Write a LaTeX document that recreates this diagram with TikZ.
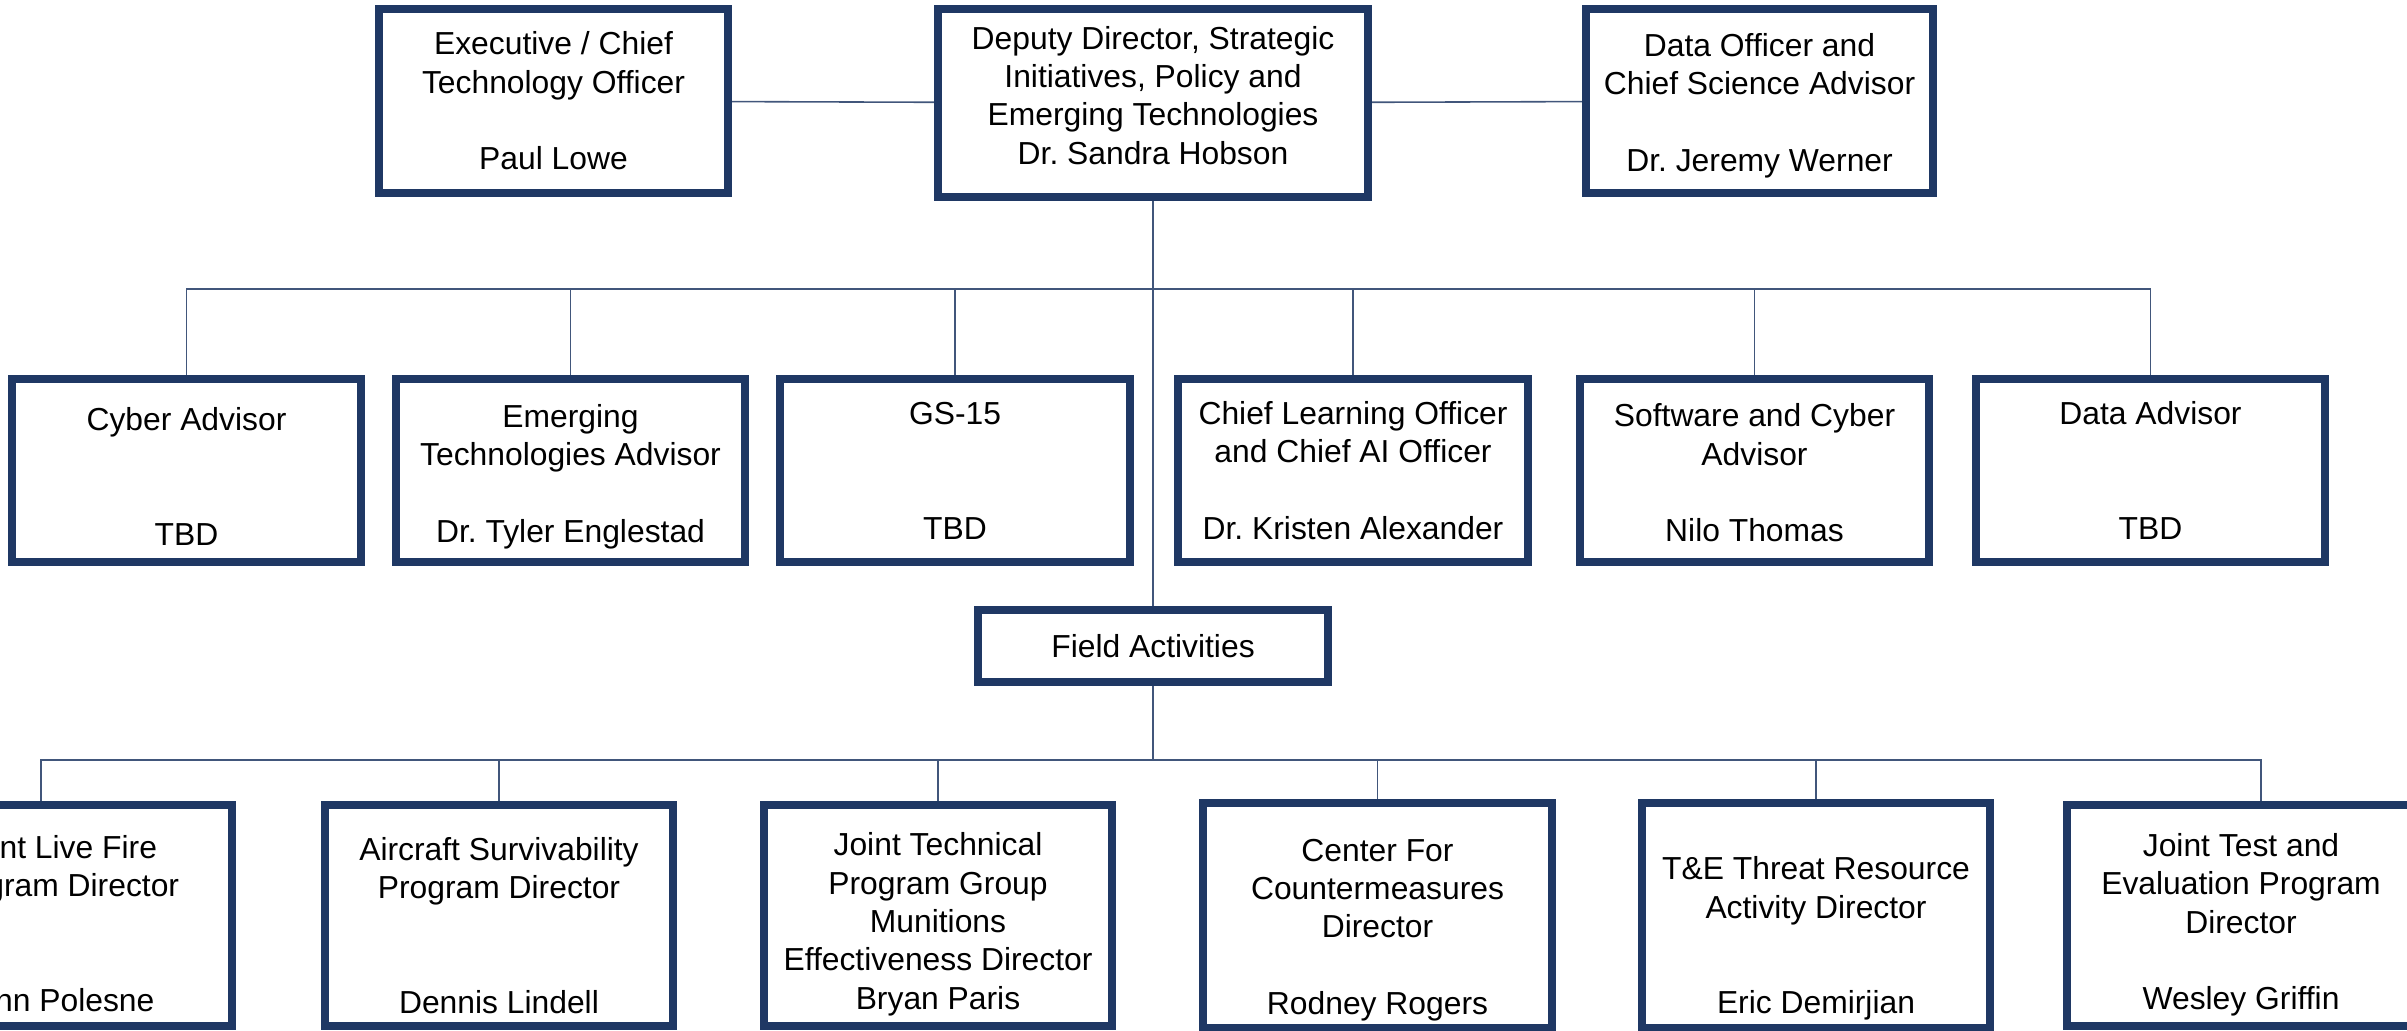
\documentclass[tikz,border=0pt]{standalone}
\usepackage{fontspec}
\setmainfont{Liberation Sans}
\usetikzlibrary{calc}
\definecolor{navy}{HTML}{1F3864}
\newcommand{\lowr}[1]{\rule{0pt}{#1}}
\newcommand{\liftr}[1]{\rule[-#1]{0pt}{#1}}
\frenchspacing

\begin{document}
\begin{tikzpicture}[x=0.01cm, y=-0.01cm,
  box/.style={draw=navy, line width=0.08cm, fill=white, align=center, inner sep=2pt,
    font=\fontsize{9.05}{10.9}\selectfont, minimum width=3.49cm, minimum height=1.83cm},
  link/.style={draw=navy!85, line width=0.45pt}]
\useasboundingbox (0,0) rectangle (2407,1030);

% top row
\node[box, minimum height=1.84cm] (exec) at (553.5,101) {Executive / Chief\\Technology Officer\\[\baselineskip]Paul Lowe};
\node[box, minimum width=4.30cm, minimum height=1.88cm] (deputy) at (1153,103) {Deputy Director, Strategic\\Initiatives, Policy and\\Emerging Technologies\\Dr. Sandra Hobson\liftr{4.4pt}};
\node[box, minimum width=3.47cm, minimum height=1.84cm] (dataoff) at (1759.5,101) {\lowr{9.2pt}Data Officer and\\Chief Science Advisor\\[\baselineskip]Dr. Jeremy Werner};
\draw[link] (exec) -- (deputy);
\draw[link] (deputy) -- (dataoff);

% advisors
\node[box] (cyber) at (186.5,470.5) {\lowr{10pt}Cyber Advisor\\[2\baselineskip]TBD};
\node[box] (emerg) at (570.5,470.5) {\lowr{10pt}Emerging\\Technologies Advisor\\[\baselineskip]Dr. Tyler Englestad};
\node[box] (gs) at (955,470.5) {GS-15\\[2\baselineskip]TBD};
\node[box] (clo) at (1353,470.5) {Chief Learning Officer\\and Chief AI Officer\\[\baselineskip]Dr. Kristen Alexander};
\node[box] (swc) at (1754.5,470.5) {\lowr{8pt}Software and Cyber\\Advisor\\[\baselineskip]Nilo Thomas};
\node[box] (dataadv) at (2150.5,470.5) {Data Advisor\\[2\baselineskip]TBD};
\coordinate (midbar) at (1152,289);
\draw[link] (cyber.north) |- (midbar) -| (dataadv.north);
\foreach \n in {emerg, gs, clo, swc}
  \draw[link] (\n.north) -- (\n.north |- midbar);

% field activities
\node[box, minimum width=3.50cm, minimum height=0.72cm] (field) at (1153,646) {Field Activities};
\draw[link] (deputy) -- (field);
\coordinate (botbar) at (1153,760);
\draw[link] (field) -- (botbar);

% directors
\tikzset{box/.append style={minimum width=3.48cm, minimum height=2.21cm}}
\node[box] (jlf) at (58,915.5) {\lowr{11pt}Joint Live Fire\\Program Director\\[2\baselineskip]John Polesne};
\node[box] (acft) at (499,915.5) {\lowr{12.3pt}Aircraft Survivability\\Program Director\\[2\baselineskip]Dennis Lindell};
\node[box] (jtcg) at (938,915.5) {\lowr{11.5pt}Joint Technical\\Program Group\\Munitions\\Effectiveness Director\\Bryan Paris};
\node[box] (cfc) at (1377.5,915.5) {\lowr{14.5pt}Center For\\Countermeasures\\Director\\[\baselineskip]Rodney Rogers};
\node[box] (tetra) at (1816,915.5) {\lowr{19.7pt}T\&E Threat Resource\\Activity Director\\[1.5\baselineskip]Eric Demirjian};
\node[box] (jtep) at (2241,915.5) {\lowr{12pt}Joint Test and\\Evaluation Program\\Director\\[\baselineskip]Wesley Griffin};
\draw[link] ([xshift=-0.17cm]jlf.north) |- (botbar) -| ([xshift=0.2cm]jtep.north);
\foreach \n in {acft, jtcg, cfc, tetra}
  \draw[link] (\n.north) -- (\n.north |- botbar);
\end{tikzpicture}
\end{document}
